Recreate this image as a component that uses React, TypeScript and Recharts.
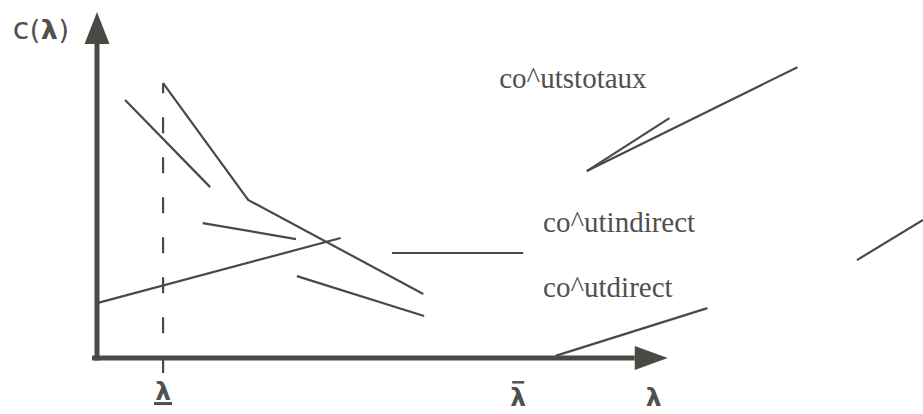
import { LineChart, Line, XAxis, YAxis, ReferenceLine, ReferenceDot } from "recharts";

const W = 923;
const H = 414;
// pixel position of the origin and how many pixels one unit takes
const ORIGIN_X = 97;
const ORIGIN_Y = 358;
const PX_X = 8.26;
const PX_Y = 3.56;
const X_DOMAIN = [-ORIGIN_X / PX_X, (W - ORIGIN_X) / PX_X];
const Y_DOMAIN = [-(H - ORIGIN_Y) / PX_Y, ORIGIN_Y / PX_Y];

const INK = "#4a4a45";
const TEXT = "#505050";

// curve pieces, in chart units (lambda, cost)
const totalUpper = [
  { x: 3.4, y: 72.5 },
  { x: 13.7, y: 48.0 },
];
const totalKinked = [
  { x: 8.0, y: 77.2 },
  { x: 18.3, y: 44.4 },
  { x: 39.5, y: 18.0 },
];
const indirectShort = [
  { x: 12.8, y: 37.9 },
  { x: 24.1, y: 33.4 },
];
const directRising = [
  { x: 0, y: 15.4 },
  { x: 29.5, y: 33.7 },
];
const indirectLow = [
  { x: 24.2, y: 23.0 },
  { x: 39.6, y: 11.8 },
];
const flatPiece = [
  { x: 35.7, y: 29.5 },
  { x: 51.6, y: 29.5 },
];
const totalLegendLong = [
  { x: 59.3, y: 52.5 },
  { x: 84.8, y: 81.7 },
];
const totalLegendShort = [
  { x: 59.3, y: 52.5 },
  { x: 69.3, y: 67.4 },
];
const edgePiece = [
  { x: 92.0, y: 27.5 },
  { x: 100, y: 38.8 },
];
const directLegend = [
  { x: 55.5, y: 0.6 },
  { x: 73.9, y: 14.0 },
];

const segments = [
  totalUpper,
  totalKinked,
  indirectShort,
  directRising,
  indirectLow,
  flatPiece,
  totalLegendLong,
  totalLegendShort,
  edgePiece,
  directLegend,
];

// axes
const yAxisLine = [
  { x: 0, y: -0.7 },
  { x: 0, y: 88.5 },
];
const xAxisLine = [
  { x: -0.6, y: 0 },
  { x: 65.1, y: 0 },
];
const yArrowTip = { x: 0, y: 97.2 };
const xArrowTip = { x: 69.1, y: 0 };

// lambda lower bound (dashed) and tick labels
const LAMBDA_MIN = 8.0;
const LAMBDA_MAX = 51.0;
const LAMBDA_AXIS = 67.4;
const dashedFrom = -4.2;
const dashedTo = 77.2;

const curveLabels = [
  { text: "co^utstotaux", x: 48.7, y: 75.8 },
  { text: "co^utindirect", x: 54.0, y: 35.4 },
  { text: "co^utdirect", x: 54.0, y: 17.1 },
];

const serif = "'Liberation Serif', 'Times New Roman', serif";
const sans = "'DejaVu Sans', sans-serif";

const ArrowUp = (p: any) => (
  <polygon
    points={`${p.cx},${p.cy} ${p.cx - 12.5},${p.cy + 32} ${p.cx + 12.5},${p.cy + 32}`}
    fill={INK}
  />
);

const ArrowRight = (p: any) => (
  <polygon
    points={`${p.cx},${p.cy} ${p.cx - 33},${p.cy - 12} ${p.cx - 33},${p.cy + 12}`}
    fill={INK}
  />
);

const curveText = (text: string) => (p: any) => (
  <text x={p.cx} y={p.cy} fontFamily={serif} fontSize={29} fill={TEXT}>
    {text}
  </text>
);

const CostTitle = (p: any) => (
  <text x={p.cx} y={p.cy} fontFamily={sans} fontSize={27} fill={TEXT} letterSpacing={0.5}>
    <tspan fontSize={30}>c</tspan>(<tspan fontWeight="bold">λ</tspan>)
  </text>
);

const lambdaText = (kind: "low" | "high" | "plain") => (p: any) => (
  <g>
    <text
      x={p.cx}
      y={kind === "low" ? p.cy - 6 : p.cy}
      textAnchor="middle"
      fontFamily={sans}
      fontWeight="bold"
      fontSize={25}
      fill={TEXT}
    >
      λ
    </text>
    {kind === "low" && <rect x={p.cx - 9} y={p.cy - 4} width={18} height={3} fill={TEXT} />}
    {kind === "high" && <rect x={p.cx - 6} y={p.cy - 25} width={12} height={2.5} fill={TEXT} />}
  </g>
);

export default function App() {
  return (
    <div style={{ position: "absolute", left: 0, top: 0, background: "#fff" }}>
      <LineChart width={W} height={H} margin={{ top: 0, right: 0, bottom: 0, left: 0 }}>
        <XAxis type="number" dataKey="x" domain={X_DOMAIN} hide allowDataOverflow />
        <YAxis type="number" dataKey="y" domain={Y_DOMAIN} hide allowDataOverflow />

        <ReferenceLine
          segment={[
            { x: LAMBDA_MIN, y: dashedTo },
            { x: LAMBDA_MIN, y: dashedFrom },
          ]}
          stroke={INK}
          strokeWidth={2.2}
          strokeDasharray="16 24"
          strokeDashoffset={6}
          ifOverflow="visible"
        />

        {segments.map((d, i) => (
          <Line
            key={i}
            data={d}
            dataKey="y"
            type="linear"
            stroke={INK}
            strokeWidth={2.2}
            dot={false}
            activeDot={false}
            isAnimationActive={false}
          />
        ))}

        <Line data={yAxisLine} dataKey="y" stroke={INK} strokeWidth={5} dot={false} activeDot={false} isAnimationActive={false} />
        <Line data={xAxisLine} dataKey="y" stroke={INK} strokeWidth={5} dot={false} activeDot={false} isAnimationActive={false} />

        <ReferenceDot x={yArrowTip.x} y={yArrowTip.y} ifOverflow="visible" shape={ArrowUp} />
        <ReferenceDot x={xArrowTip.x} y={xArrowTip.y} ifOverflow="visible" shape={ArrowRight} />

        <ReferenceDot x={-10.2} y={89.6} ifOverflow="visible" shape={CostTitle} />
        {curveLabels.map((l) => (
          <ReferenceDot key={l.text} x={l.x} y={l.y} ifOverflow="visible" shape={curveText(l.text)} />
        ))}

        <ReferenceDot x={LAMBDA_MIN} y={-13.5} ifOverflow="visible" shape={lambdaText("low")} />
        <ReferenceDot x={LAMBDA_MAX} y={-13.5} ifOverflow="visible" shape={lambdaText("high")} />
        <ReferenceDot x={LAMBDA_AXIS} y={-13.5} ifOverflow="visible" shape={lambdaText("plain")} />
      </LineChart>
    </div>
  );
}
